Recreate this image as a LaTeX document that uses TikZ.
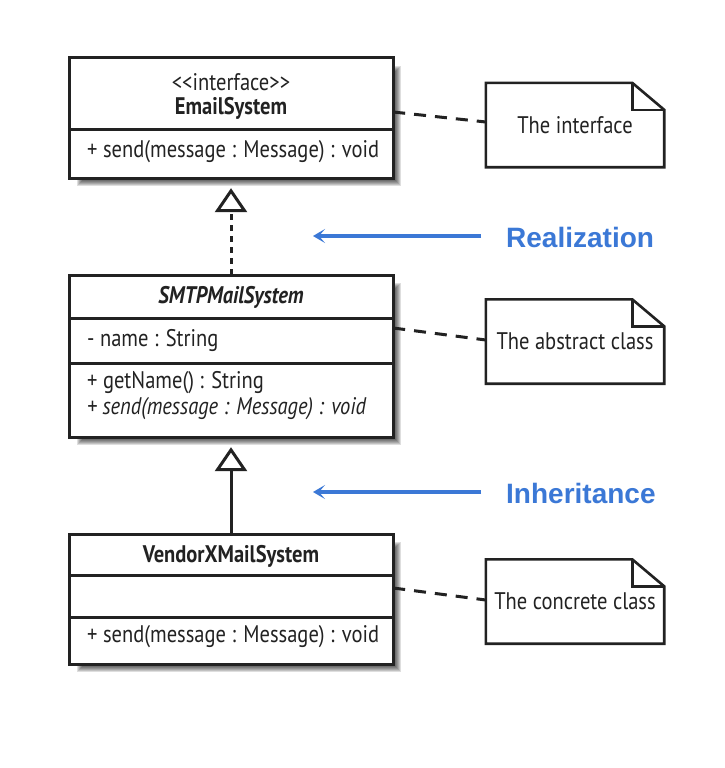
\documentclass[tikz,border=0pt]{standalone}
\usepackage{fontspec}
\setmainfont{PT Sans}[FakeStretch=0.855]
\newfontfamily\lblfont{Liberation Sans}
\usetikzlibrary{arrows.meta}
\definecolor{lblblue}{HTML}{3B78D6}
\definecolor{ink}{HTML}{222222}
\tikzset{
  umlbox/.style={draw=ink, line width=3pt, fill=white, minimum width=324pt, inner sep=0pt},
  divider/.style={draw=ink, line width=3pt},
  boxtxt/.style={font=\fontsize{24}{27}\selectfont, text=ink, inner sep=0pt},
  notebox/.style={minimum width=178pt, minimum height=84pt, inner sep=0pt, font=\fontsize{24}{27}\selectfont, text=ink},
  noteline/.style={draw=ink, line width=2.6pt, line join=miter},
  notelink/.style={draw=ink, line width=3pt, dash pattern=on 12pt off 9pt},
  bluelbl/.style={font=\lblfont\bfseries\fontsize{28}{32}\selectfont, text=lblblue, inner sep=0pt, anchor=west},
  bluearrow/.style={draw=lblblue, line width=3.5pt, -{Stealth[length=12pt, width=14pt, inset=6pt]}},
  realiz/.style={draw=ink, line width=3pt, dash pattern=on 6pt off 5pt, shorten >=10pt, -{Triangle[open, length=24pt, width=32pt, line width=3pt]}},
  inherit/.style={draw=ink, line width=3pt, shorten >=10pt, -{Triangle[open, length=24pt, width=32pt, line width=3pt]}},
}
\newcommand\boxshadow[1]{%
  \foreach \d in {0,1,...,6}{
    \fill[black, opacity=0.13] ([shift={(8+\d,8+\d)}]#1.north west) rectangle ([shift={(8-\d,8-\d)}]#1.south east);
  }}
\newcommand\notedraw[1]{%
  \draw[noteline] (#1.north west) -- ([xshift=-32pt]#1.north east) -- ([yshift=-27pt]#1.north east) -- (#1.south east) -- (#1.south west) -- cycle;
  \draw[noteline] ([xshift=-32pt]#1.north east) |- ([yshift=-27pt]#1.north east);}
\begin{document}
\begin{tikzpicture}[x=1pt,y=-1pt]
\useasboundingbox[fill=white] (0,0) rectangle (725,768);

% class boxes (geometry)
\path (231,118) node[minimum height=120pt, minimum width=324pt, inner sep=0pt] (es) {};
\path (231,356) node[minimum height=162pt, minimum width=324pt, inner sep=0pt] (smtp) {};
\path (231,599) node[minimum height=130pt, minimum width=324pt, inner sep=0pt] (vx) {};
\boxshadow{es}
\boxshadow{smtp}
\boxshadow{vx}
\node[umlbox, minimum height=120pt] at (es) {};
\node[umlbox, minimum height=162pt] at (smtp) {};
\node[umlbox, minimum height=130pt] at (vx) {};

% dividers
\draw[divider] (es.west |- 0,129) -- (es.east |- 0,129);
\draw[divider] (smtp.west |- 0,318) -- (smtp.east |- 0,318);
\draw[divider] (smtp.west |- 0,363) -- (smtp.east |- 0,363);
\draw[divider] (vx.west |- 0,575) -- (vx.east |- 0,575);
\draw[divider] (vx.west |- 0,617) -- (vx.east |- 0,617);

% texts
\node[boxtxt] (es-st) at (231,82) {{<}{<}interface{>}{>}};
\node[boxtxt, font=\bfseries\fontsize{24}{27}\selectfont] (es-nm) at (231,108) {EmailSystem};
\node[boxtxt, anchor=west] (es-op) at (87,152) {+ send(message : Message) : void};

\node[boxtxt, font=\bfseries\itshape\fontsize{24}{27}\selectfont] (smtp-nm) at (231,297) {SMTPMailSystem};
\node[boxtxt, anchor=west] (smtp-at) at (87,340) {- name : String};
\node[boxtxt, anchor=west] (smtp-op1) at (87,383) {+ getName() : String};
\node[boxtxt, anchor=west, font=\itshape\fontsize{24}{27}\selectfont] (smtp-op2) at (87,409) {+ send(message : Message) : void};

\node[boxtxt, font=\bfseries\fontsize{24}{27}\selectfont] (vx-nm) at (231,556) {VendorXMailSystem};
\node[boxtxt, anchor=west] (vx-op) at (87,637) {+ send(message : Message) : void};

% notes
\node[notebox] (n1) at (575,125) {The interface};
\node[notebox] (n2) at (575,341.5) {The abstract class};
\node[notebox] (n3) at (575,601.5) {The concrete class};
\notedraw{n1}
\notedraw{n2}
\notedraw{n3}

\draw[notelink] ([yshift=6pt]es.east) -- ([yshift=3pt]n1.west);
\draw[notelink] ([yshift=28pt]smtp.east) -- ([yshift=1.5pt]n2.west);
\draw[notelink] ([yshift=11pt]vx.east) -- ([yshift=1.5pt]n3.west);

% relationships
\draw[realiz] (smtp.north) -- (es.south);
\draw[inherit] (vx.north) -- (smtp.south);

% blue annotations
\node[bluelbl] (lreal) at (506,237) {Realization};
\node[bluelbl] (linh) at (506,493) {Inheritance};
\coordinate (treal) at (313,236);
\coordinate (tinh) at (313,492);
\draw[bluearrow, shorten <=25pt] (lreal.west |- treal) -- (treal);
\draw[bluearrow, shorten <=25pt] (linh.west |- tinh) -- (tinh);
\end{tikzpicture}
\end{document}
